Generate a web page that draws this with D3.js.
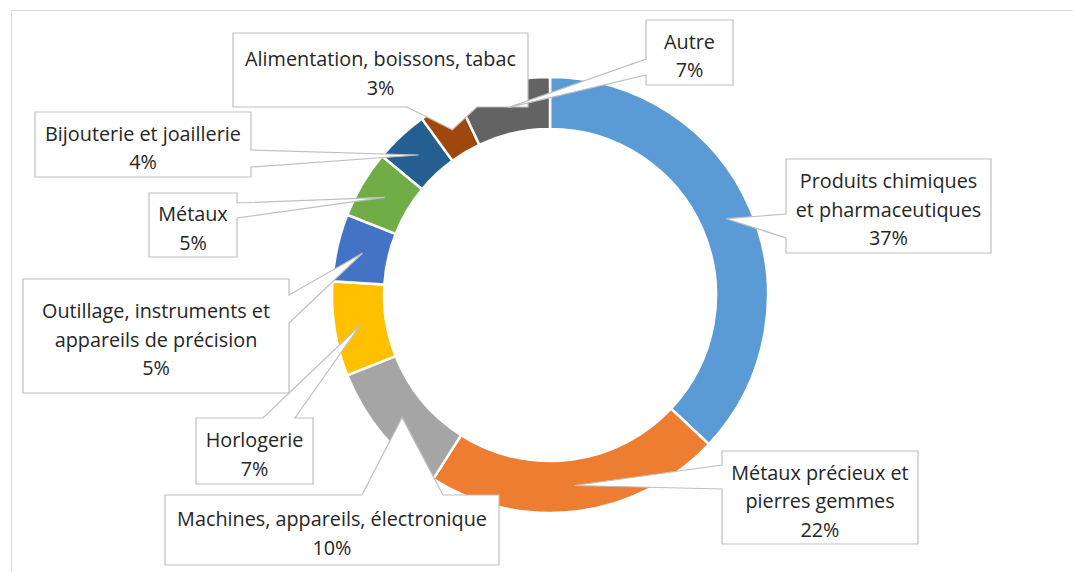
<!DOCTYPE html>
<html>
<head>
<meta charset="utf-8">
<script src="https://cdn.jsdelivr.net/npm/d3@7"></script>
<style>
  html, body { margin: 0; padding: 0; background: #fff; }
  svg { display: block; }
</style>
</head>
<body>
<svg id="chart" width="1073" height="572"></svg>
<script>
// ---- data ----
const categories = [
  "Produits chimiques et pharmaceutiques",
  "Métaux précieux et pierres gemmes",
  "Machines, appareils, électronique",
  "Horlogerie",
  "Outillage, instruments et appareils de précision",
  "Métaux",
  "Bijouterie et joaillerie",
  "Alimentation, boissons, tabac",
  "Autre"
];
const values = [37, 22, 10, 7, 5, 5, 4, 3, 7];
const colors = ["#5B9BD5", "#ED7D31", "#A5A5A5", "#FFC000", "#4472C4", "#70AD47", "#255E91", "#9E480E", "#636363"];
// wrapped label lines (as shown in the callouts)
const labelLines = [
  ["Produits chimiques", "et pharmaceutiques"],
  ["Métaux précieux et", "pierres gemmes"],
  ["Machines, appareils, électronique"],
  ["Horlogerie"],
  ["Outillage, instruments et", "appareils de précision"],
  ["Métaux"],
  ["Bijouterie et joaillerie"],
  ["Alimentation, boissons, tabac"],
  ["Autre"]
];

// ---- layout ----
const W = 1073, H = 572;
const cx = 550, cy = 295, R = 218, r = 166;
// callout boxes: x, y, w, h, side of wedge base, base offsets along the side
const boxes = [
  {x: 786, y: 159, w: 205, h: 94, side: "left", a: 55, b: 79},
  {x: 722, y: 451, w: 196, h: 93, side: "left", a: 14, b: 38},
  {x: 165, y: 495, w: 334, h: 70, side: "top", a: 197, b: 278},
  {x: 196, y: 418, w: 117, h: 66, side: "top", a: 67, b: 99},
  {x: 23, y: 279, w: 266, h: 114, side: "right", a: 16, b: 44},
  {x: 149, y: 193, w: 88, h: 64, side: "right", a: 10, b: 25},
  {x: 35, y: 112, w: 216, h: 65, side: "right", a: 38, b: 55},
  {x: 233, y: 33, w: 295, h: 74, side: "bottom", a: 174, b: 244},
  {x: 646, y: 20, w: 87, h: 65, side: "left", a: 39, b: 55}
];

const svg = d3.select("#chart");
const fontFamily = "'Open Sans', 'Noto Sans', sans-serif";

// calibrate font size so that the widest label matches reference width (~310px)
const probe = svg.append("text").attr("font-family", fontFamily).attr("font-size", 100)
  .text("Machines, appareils, électronique");
const probeW = probe.node().getComputedTextLength();
probe.remove();
const fontSize = 100 * 310 / probeW;
const lineH = 28.5;

// chart area frame
svg.append("rect")
  .attr("x", 11.5).attr("y", 10.5)
  .attr("width", W + 20).attr("height", H + 20)
  .attr("fill", "none").attr("stroke", "#D9D9D9").attr("stroke-width", 1);

const pie = d3.pie().sort(null).value(d => d).startAngle(0).endAngle(2 * Math.PI);
const arcs = pie(values);
const arc = d3.arc().innerRadius(r).outerRadius(R);
const midArc = d3.arc().innerRadius((R + r) / 2).outerRadius((R + r) / 2);

const g = svg.append("g").attr("transform", `translate(${cx},${cy})`);
g.selectAll("path.slice")
  .data(arcs)
  .join("path")
  .attr("class", "slice")
  .attr("d", arc)
  .attr("fill", (d, i) => colors[i])
  .attr("stroke", "#fff")
  .attr("stroke-width", 2.5)
  .attr("stroke-linejoin", "miter");

// callouts
function calloutPath(b, tip) {
  const x0 = b.x, y0 = b.y, x1 = b.x + b.w, y1 = b.y + b.h;
  const pts = [[x0, y0]];
  if (b.side === "top") pts.push([x0 + b.a, y0], tip, [x0 + b.b, y0]);
  pts.push([x1, y0]);
  if (b.side === "right") pts.push([x1, y0 + b.a], tip, [x1, y0 + b.b]);
  pts.push([x1, y1]);
  if (b.side === "bottom") pts.push([x0 + b.b, y1], tip, [x0 + b.a, y1]);
  pts.push([x0, y1]);
  if (b.side === "left") pts.push([x0, y0 + b.b], tip, [x0, y0 + b.a]);
  return "M" + pts.map(p => p[0].toFixed(1) + "," + p[1].toFixed(1)).join("L") + "Z";
}

const labels = svg.append("g");
arcs.forEach((d, i) => {
  const c = midArc.centroid(d);
  const tip = [cx + c[0], cy + c[1]];
  const b = boxes[i];
  labels.append("path")
    .attr("d", calloutPath(b, tip))
    .attr("fill", "#fff")
    .attr("stroke", "#BFBFBF")
    .attr("stroke-width", 1.2)
    .attr("stroke-linejoin", "miter");
  const lines = labelLines[i].concat([values[i] + "%"]);
  const mid = b.y + b.h / 2 + 3;
  const t = labels.append("text")
    .attr("font-family", fontFamily)
    .attr("font-size", fontSize)
    .attr("fill", "#262626")
    .attr("text-anchor", "middle");
  lines.forEach((ln, k) => {
    t.append("tspan")
      .attr("x", b.x + b.w / 2)
      .attr("y", mid + (k - (lines.length - 1) / 2) * lineH)
      .attr("dominant-baseline", "central")
      .text(ln);
  });
});
</script>
</body>
</html>
